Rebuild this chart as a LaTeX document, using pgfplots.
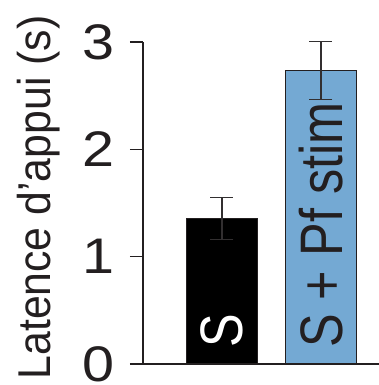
\documentclass[border=0pt]{standalone}
\usepackage{pgfplots}
\pgfplotsset{compat=1.18}
\usepackage{fontspec}
\setmainfont{Liberation Sans}
\newfontfamily\tickfont[FakeStretch=1.15]{Liberation Sans}
\newfontfamily\barfont[FakeStretch=0.84]{Liberation Sans}
\newfontfamily\labfont[FakeStretch=0.93,Ligatures=TeX]{Liberation Sans}
\definecolor{axgray}{RGB}{35,31,32}
\definecolor{errgray}{RGB}{50,47,48}
\definecolor{barblue}{RGB}{116,169,211}
\begin{document}
\begin{tikzpicture}
\useasboundingbox (-71.5pt,-10.5pt) rectangle (118pt,182pt);
\begin{axis}[
  scale only axis, width=118pt, height=161pt,
  xmin=-0.798, xmax=1.586, ymin=0, ymax=3,
  axis x line=bottom, axis y line=left,
  axis line style={axgray, line width=0.75pt, -},
  xtick=\empty, ytick={0,1,2,3},
  tick align=outside, major tick length=6.5pt,
  tick style={axgray, line width=0.75pt},
  yticklabel style={font=\tickfont\fontsize{25}{30}\selectfont, text=axgray, inner sep=0pt, xshift=-7.5pt},
  /pgf/number format/assume math mode=true,
  ylabel={Latence d’appui (s)},
  ylabel style={font=\labfont\fontsize{23}{27}\selectfont, text=axgray, at={(axis description cs:-0.39,0.517)}, anchor=base},
  clip=false,
  ybar, bar width=0.717, bar shift=0pt,
]
\addplot[fill=black, draw=axgray, line width=0.5pt,
  error bars/.cd, y dir=both, y explicit,
  error bar style={errgray, line width=0.75pt},
  error mark options={rotate=90, mark size=5.75pt, errgray, line width=0.75pt}]
  coordinates {(0,1.355) +- (0,0.195)};
\addplot[fill=barblue, draw=axgray, line width=0.5pt,
  error bars/.cd, y dir=both, y explicit,
  error bar style={errgray, line width=0.75pt},
  error mark options={rotate=90, mark size=5.75pt, errgray, line width=0.75pt}]
  coordinates {(1,2.735) +- (0,0.27)};
\node[rotate=90, anchor=west, text=white, font=\barfont\fontsize{30}{36}\selectfont, inner sep=0pt] at (axis cs:0,0.149) {S};
\node[rotate=90, anchor=west, text=axgray, font=\barfont\fontsize{30}{36}\selectfont, inner sep=0pt] at (axis cs:1,0.149) {S + Pf stim};
\end{axis}
\end{tikzpicture}
\end{document}
